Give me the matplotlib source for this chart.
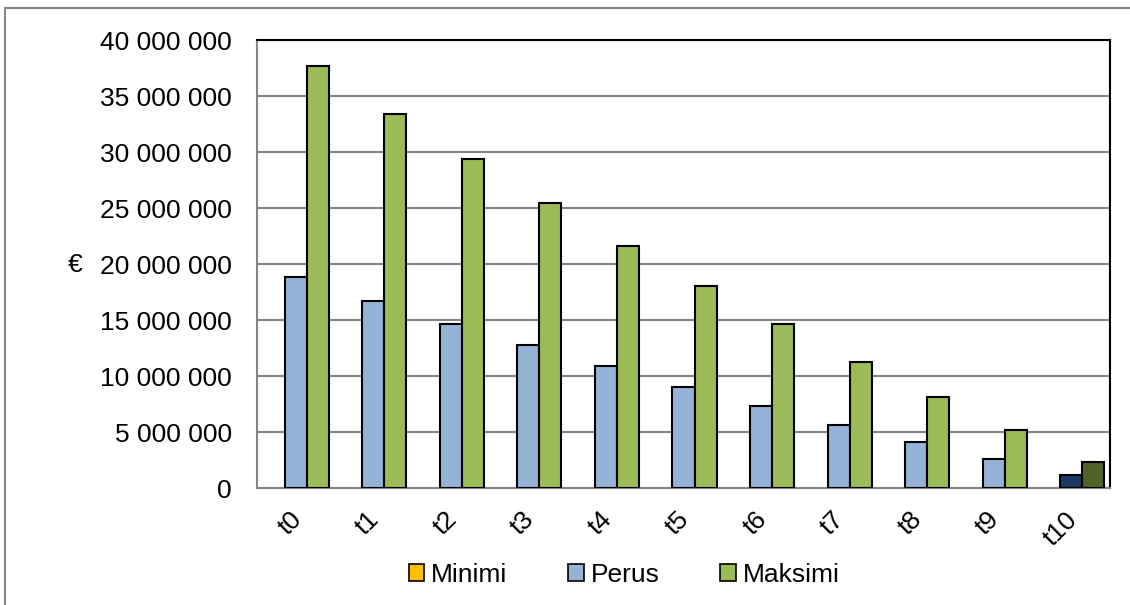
import numpy as np
import matplotlib
matplotlib.use("Agg")
import matplotlib.pyplot as plt
import matplotlib.transforms as mtransforms
from matplotlib.patches import Patch, Rectangle
from matplotlib.ticker import FuncFormatter, MultipleLocator

plt.rcParams["font.family"] = ["Liberation Sans", "DejaVu Sans"]

categories = ["t0", "t1", "t2", "t3", "t4", "t5", "t6", "t7", "t8", "t9", "t10"]
minimi = [0, 0, 0, 0, 0, 0, 0, 0, 0, 0, 0]
perus = [18.8e6, 16.7e6, 14.65e6, 12.75e6, 10.9e6, 9.0e6, 7.3e6, 5.6e6, 4.1e6, 2.6e6, 1.15e6]
maksimi = [37.7e6, 33.4e6, 29.35e6, 25.45e6, 21.65e6, 18.0e6, 14.6e6, 11.25e6, 8.1e6, 5.2e6, 2.3e6]
series_names = ["Minimi", "Perus", "Maksimi"]

col_min = "#FFC000"
col_perus = "#95B3D7"
col_maks = "#9BBB59"
# last period highlighted with darker shades
col_perus_last = "#1B3A63"
col_maks_last = "#4F6228"

FS = 19

fig = plt.figure(figsize=(11.3, 6.05), dpi=100)
ax = fig.add_axes([257 / 1130, 1 - 488 / 605, (1110 - 257) / 1130, (488 - 40) / 605])

x = np.arange(len(categories))
w = 0.284
perus_colors = [col_perus] * (len(categories) - 1) + [col_perus_last]
maks_colors = [col_maks] * (len(categories) - 1) + [col_maks_last]

ax.bar(x - w, minimi, w, color=col_min, edgecolor="none", zorder=3)
ax.bar(x, perus, w, color=perus_colors, edgecolor="black", linewidth=1.5, zorder=3)
ax.bar(x + w, maksimi, w, color=maks_colors, edgecolor="black", linewidth=1.5, zorder=3)

ax.set_xlim(-0.5, len(categories) - 0.5)
ax.set_ylim(0, 40e6)
ax.yaxis.set_major_locator(MultipleLocator(5e6))
ax.yaxis.set_major_formatter(FuncFormatter(lambda v, p: f"{int(v):,}".replace(",", " ")))
ax.grid(axis="y", color="#868686", linewidth=1.5, zorder=0)
ax.set_axisbelow(True)

ax.set_xticks(x)
ax.set_xticklabels(categories, fontsize=FS)
ax.tick_params(axis="x", length=0, pad=20)
ax.tick_params(axis="y", length=0, pad=18, labelsize=FS)
shift = mtransforms.ScaledTranslation(2 / 100, 0, fig.dpi_scale_trans)
for lab in ax.get_xticklabels():
    lab.set_rotation(45)
    lab.set_rotation_mode("anchor")
    lab.set_ha("right")
    lab.set_va("center")
    lab.set_transform(lab.get_transform() + shift)

for side in ("top", "right"):
    ax.spines[side].set_color("black")
    ax.spines[side].set_linewidth(1.5)
for side in ("left", "bottom"):
    ax.spines[side].set_color("#868686")
    ax.spines[side].set_linewidth(1.5)

fig.text(75 / 1130, 1 - 265 / 605, "€", fontsize=FS, ha="center", va="center")

handles = [Patch(facecolor=c, edgecolor="black", linewidth=1.2) for c in (col_min, col_perus, col_maks)]
fig.legend(handles, series_names, loc="center", bbox_to_anchor=(624 / 1130, 1 - 575 / 605),
           ncol=3, frameon=False, fontsize=FS, handlelength=0.6, handleheight=0.6,
           handletextpad=0.25, columnspacing=2.3)

fig.patches.append(Rectangle((5 / 1130, -0.05), 1.1, 1 - 8 / 605 + 0.05, transform=fig.transFigure,
                             fill=False, edgecolor="#868686", linewidth=1.5))

fig.savefig("out.png", dpi=100)
